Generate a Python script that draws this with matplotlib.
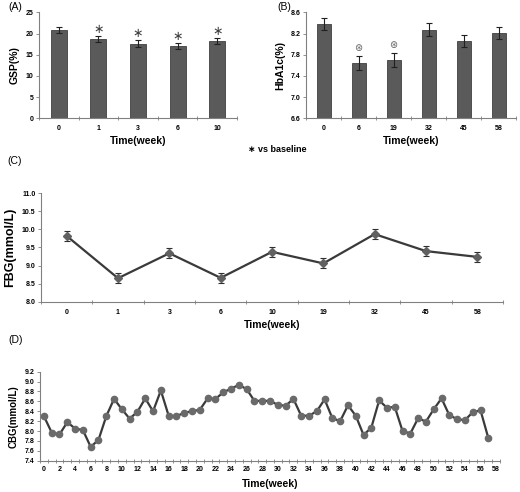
import numpy as np
import matplotlib
matplotlib.use('Agg')
import matplotlib.pyplot as plt

plt.rcParams['font.family'] = ['Liberation Sans', 'DejaVu Sans']

# (A) GSP
gsp_weeks = ['0', '1', '3', '6', '10']
gsp_mean = [20.9, 18.8, 17.6, 17.1, 18.2]
gsp_err = [0.75, 0.7, 0.8, 0.75, 0.7]
gsp_sig = [False, True, True, True, True]

# (B) HbA1c
hba_weeks = ['0', '6', '19', '32', '45', '58']
hba_mean = [8.38, 7.65, 7.70, 8.27, 8.06, 8.21]
hba_err = [0.11, 0.13, 0.13, 0.12, 0.12, 0.12]
hba_sig = [False, True, True, False, False, False]

# (C) FBG
fbg_weeks = ['0', '1', '3', '6', '10', '19', '32', '45', '58']
fbg_mean = [9.82, 8.65, 9.34, 8.66, 9.38, 9.06, 9.87, 9.40, 9.24]
fbg_err = [0.14, 0.14, 0.14, 0.14, 0.14, 0.14, 0.14, 0.14, 0.14]

# (D) CBG, weekly
cbg = [8.30, 7.97, 7.93, 8.18, 8.05, 8.02, 7.68, 7.82, 8.30, 8.65,
       8.44, 8.25, 8.39, 8.66, 8.40, 8.82, 8.31, 8.30, 8.37, 8.40,
       8.43, 8.66, 8.65, 8.78, 8.86, 8.93, 8.85, 8.61, 8.61, 8.61,
       8.53, 8.51, 8.65, 8.31, 8.31, 8.40, 8.64, 8.26, 8.20, 8.52,
       8.31, 7.92, 8.07, 8.62, 8.47, 8.49, 8.00, 7.95, 8.26, 8.19,
       8.44, 8.66, 8.32, 8.24, 8.22, 8.38, 8.42, 7.86]

W, H = 520, 492
fig = plt.figure(figsize=(W / 100, H / 100), dpi=100)


def box(x0, y0, x1, y1):
    return [x0 / W, 1 - y1 / H, (x1 - x0) / W, (y1 - y0) / H]


def style(ax):
    for s in ['top', 'right']:
        ax.spines[s].set_visible(False)
    for s in ['left', 'bottom']:
        ax.spines[s].set_color('#808080')
        ax.spines[s].set_linewidth(0.8)
    ax.tick_params(axis='y', labelsize=5, length=2.5, width=0.6, color='#808080', pad=1.5)
    ax.tick_params(axis='x', which='major', labelsize=5, length=0, pad=5)
    ax.tick_params(axis='x', which='minor', length=3, width=0.6, color='#808080', direction='inout')


def cat_axis(ax, labels):
    n = len(labels)
    ax.set_xlim(-0.5, n - 0.5)
    ax.set_xticks(range(n))
    ax.set_xticklabels(labels, fontweight='bold')
    ax.set_xticks(np.arange(-0.5, n, 1), minor=True)


def bold_y(ax, fmt):
    ax.set_yticklabels([fmt % v for v in ax.get_yticks()], fontweight='bold')


def bar_panel(ax, weeks, mean, err, sig, ylim, yticks, ylabel, star_off, star_char, star_size):
    x = np.arange(len(weeks))
    ax.bar(x, mean, width=0.4, color='#5a5a5a', edgecolor='#404040', linewidth=0.6,
           yerr=err, capsize=2.5, error_kw=dict(ecolor='#202020', elinewidth=0.8, capthick=0.8))
    ax.set_ylim(*ylim)
    ax.set_yticks(yticks)
    style(ax)
    cat_axis(ax, weeks)
    ax.set_ylabel(ylabel, fontsize=7.5, fontweight='bold', labelpad=4)
    ax.set_xlabel('Time(week)', fontsize=7.5, fontweight='bold', labelpad=3)
    for xi, m, e, s in zip(x, mean, err, sig):
        if s:
            ax.text(xi, m + e + star_off, star_char, ha='center', va='center',
                    fontsize=star_size, color='#404040')


axA = fig.add_axes(box(39, 12.3, 237, 118.3))
bar_panel(axA, gsp_weeks, gsp_mean, gsp_err, gsp_sig, (0, 25), [0, 5, 10, 15, 20, 25],
          'GSP(%)', 1.4, '∗', 9)
bold_y(axA, '%d')

axB = fig.add_axes(box(306, 12.3, 516, 118.3))
bar_panel(axB, hba_weeks, hba_mean, hba_err, hba_sig, (6.6, 8.6),
          [6.6, 7.0, 7.4, 7.8, 8.2, 8.6], 'HbA1c(%)', 0.15, '⊛', 7)
bold_y(axB, '%.1f')
for t in axB.texts:
    t.set_color('#606060')

fig.text(248 / W, 1 - 150 / H, '∗ vs baseline', fontsize=6.5, fontweight='bold',
         ha='left', va='center')

# (C)
axC = fig.add_axes(box(41, 193.3, 503, 301.7))
xc = np.arange(len(fbg_weeks))
axC.errorbar(xc, fbg_mean, yerr=fbg_err, color='#3a3a3a', linewidth=1.6,
             marker='D', markersize=4.5, markerfacecolor='#606060', markeredgecolor='#606060',
             ecolor='#303030', elinewidth=0.8, capsize=2.5, capthick=0.8)
axC.set_ylim(8.0, 11.0)
axC.set_yticks(np.arange(8.0, 11.01, 0.5))
style(axC)
bold_y(axC, '%.1f')
cat_axis(axC, fbg_weeks)
axC.set_ylabel('FBG(mmol/L)', fontsize=9, fontweight='bold', labelpad=4)
axC.set_xlabel('Time(week)', fontsize=7.5, fontweight='bold', labelpad=3)

# (D)
axD = fig.add_axes(box(40, 371.7, 500, 460.7))
xd = np.arange(len(cbg))
axD.plot(xd, cbg, color='#3a3a3a', linewidth=1.6, marker='o', markersize=4.5,
         markerfacecolor='#6a6a6a', markeredgecolor='#6a6a6a')
axD.set_ylim(7.4, 9.2)
axD.set_yticks(np.arange(7.4, 9.21, 0.2))
style(axD)
bold_y(axD, '%.1f')
axD.set_xlim(-0.5, 58.5)
axD.set_xticks(np.arange(0, 59, 2))
axD.set_xticklabels([str(v) for v in range(0, 59, 2)], fontweight='bold')
axD.set_xticks(np.arange(-0.5, 59, 1), minor=True)
axD.tick_params(axis='x', which='major', pad=4)
axD.set_ylabel('CBG(mmol/L)', fontsize=7, fontweight='bold', labelpad=4)
axD.set_xlabel('Time(week)', fontsize=7.5, fontweight='bold', labelpad=4)

for lab, x, y in [('(A)', 8, 7), ('(B)', 277, 7), ('(C)', 7, 161), ('(D)', 8, 340)]:
    fig.text(x / W, 1 - y / H, lab, fontsize=7.5, ha='left', va='center')

fig.savefig('out.png', dpi=100)
